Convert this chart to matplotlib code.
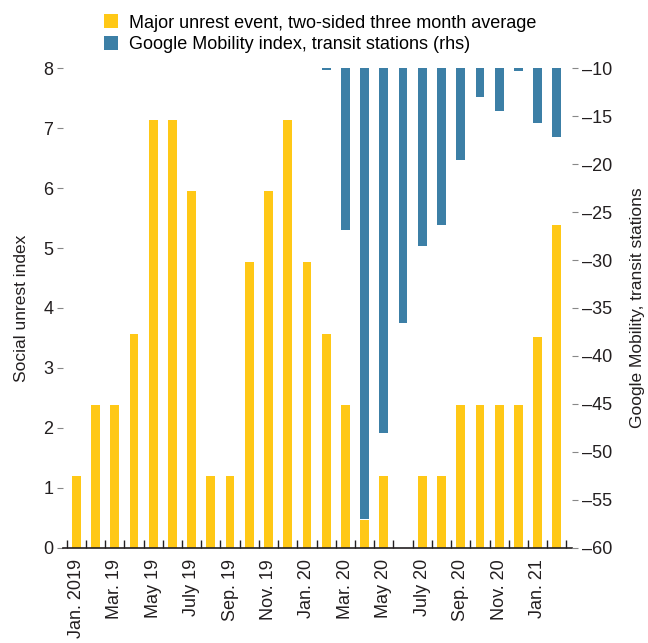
import matplotlib
matplotlib.use("Agg")
import matplotlib.pyplot as plt
from matplotlib import font_manager
import numpy as np

names = {f.name for f in font_manager.fontManager.ttflist}
fam = ["Liberation Sans Narrow"] if "Liberation Sans Narrow" in names else ["Liberation Sans"]
plt.rcParams["font.family"] = fam + ["DejaVu Sans"]
plt.rcParams["axes.unicode_minus"] = True

months = ["Jan. 2019", "Feb. 19", "Mar. 19", "Apr. 19", "May 19", "June 19", "July 19", "Aug. 19",
          "Sep. 19", "Oct. 19", "Nov. 19", "Dec. 19", "Jan. 20", "Feb. 20", "Mar. 20", "Apr. 20",
          "May 20", "June 20", "July 20", "Aug. 20", "Sep. 20", "Oct. 20", "Nov. 20", "Dec. 20",
          "Jan. 21", "Feb. 21"]
unrest = [1.19, 2.38, 2.38, 3.57, 7.14, 7.14, 5.95, 1.19, 1.19, 4.76, 5.95, 7.14, 4.76, 3.57,
          2.38, 0.47, 1.19, 0.0, 1.19, 1.19, 2.38, 2.38, 2.38, 2.38, 3.52, 5.38]
mobility = [np.nan] * 13 + [-10.2, -26.9, -57.0, -48.0, -36.6, -28.5, -26.4, -19.6, -13.0,
                            -14.5, -10.3, -15.7, -17.2]
left_ticks = [0, 1, 2, 3, 4, 5, 6, 7, 8]
right_ticks = [-60, -55, -50, -45, -40, -35, -30, -25, -20, -15, -10]

yellow = "#FFC816"
blue = "#3C7FA6"

fig = plt.figure(figsize=(6.48, 6.43), dpi=100)
ax = fig.add_axes([0.097, 0.148, 0.786, 0.746])
ax2 = ax.twinx()

x = np.arange(len(months))
b1 = ax.bar(x, unrest, width=0.46, color=yellow, zorder=2)
b2 = ax2.bar(x, mobility, width=0.46, color=blue, zorder=3)

ax.set_zorder(1)
ax2.set_zorder(2)
ax2.patch.set_visible(False)

ax.set_xlim(-0.7, 25.8)
ax.set_ylim(0, 8)
ax2.set_ylim(-60, -10)
ax.set_yticks(left_ticks)
ax2.set_yticks(right_ticks)
ax2.set_yticklabels([str(v).replace("-", "\u2013") for v in right_ticks])

for a in (ax, ax2):
    for s in ("top", "left", "right"):
        a.spines[s].set_visible(False)
ax2.spines["bottom"].set_visible(False)
ax.spines["bottom"].set_color("#231f20")
ax.spines["bottom"].set_linewidth(1.2)

ax.tick_params(axis="y", length=4, width=0.8, color="#888888", labelsize=13, pad=3, labelcolor="#231f20")
ax2.tick_params(axis="y", length=4, width=0.8, color="#888888", labelsize=13, pad=3, labelcolor="#231f20")

ax.set_xticks(np.arange(-0.5, 26, 1), minor=True)
ax.set_xticks(x[::2])
ax.set_xticklabels(months[::2], rotation=90, fontsize=13, color="#231f20")
ax.tick_params(axis="x", which="major", length=0, pad=8)
ax.tick_params(axis="x", which="minor", direction="in", length=6, width=1, color="#231f20")

ax.set_ylabel("Social unrest index", fontsize=12.5, color="#231f20", labelpad=10)
ax2.set_ylabel("Google Mobility, transit stations", fontsize=12.5, color="#231f20", labelpad=13)

fig.legend([b1, b2],
           ["Major unrest event, two-sided three month average",
            "Google Mobility index, transit stations (rhs)"],
           loc="upper left", bbox_to_anchor=(0.138, 1.0), frameon=False, fontsize=13,
           handlelength=0.8, handleheight=0.8, handletextpad=0.6, labelspacing=0.25,
           borderaxespad=0.4)

fig.savefig("out.png", dpi=100)
